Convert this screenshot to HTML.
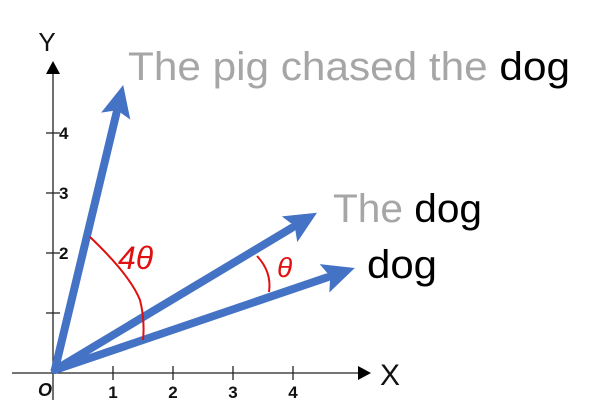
<!DOCTYPE html>
<html><head><meta charset="utf-8"><style>
html,body{margin:0;padding:0;background:#fff;width:590px;height:419px;overflow:hidden}
svg{display:block}
text{font-family:"Liberation Sans",sans-serif}
</style></head><body>
<svg id="chart" width="590" height="419" viewBox="0 0 590 419">
<g id="axes"></g>
<g id="vectors"></g>
<g id="annot">
  <path d="M90,237 Q130,275 140,300 Q145,320 143,340" fill="none" stroke="#e01010" stroke-width="2"/>
  <text x="118" y="269" font-size="32" fill="#e01010" font-style="italic">4θ</text>
  <path d="M257,256 Q272,272 269,292" fill="none" stroke="#e01010" stroke-width="2"/>
  <text x="277" y="277" font-size="28" fill="#e01010" font-style="italic">θ</text>
</g>
<g>
  <text x="128" y="80" font-size="40" textLength="442" lengthAdjust="spacingAndGlyphs" fill="#a6a6a6">The pig chased the <tspan fill="#000">dog</tspan></text>
  <text x="333" y="222" font-size="40" textLength="149" lengthAdjust="spacingAndGlyphs" fill="#a6a6a6">The <tspan fill="#000">dog</tspan></text>
  <text x="367" y="278" font-size="40" textLength="70" lengthAdjust="spacingAndGlyphs" fill="#000">dog</text>
</g>
</svg>
<script>
const xTicks=[1,2,3,4];
const yTicks=[1,2,3,4];
const yTickLabels=["","2","3","4"];
const vecX=[1.17,4.4,5.03];
const vecY=[4.8,2.67,1.75];
const vecNames=["vector-pig-chased-dog","vector-the-dog","vector-dog"];
const ox=53,oy=373,u=60;
const sx=v=>ox+v*u, sy=v=>oy-v*u;
const NS="http://www.w3.org/2000/svg";
function mk(tag,attrs,parent){const e=document.createElementNS(NS,tag);for(const k in attrs)e.setAttribute(k,attrs[k]);parent.appendChild(e);return e;}
const ax=document.getElementById('axes');
let e;
e=mk('line',{x1:12,y1:oy,x2:362,y2:oy,stroke:'#222','stroke-width':1.3},ax);


e=mk('polygon',{points:`371,${oy} 358,${oy-7} 358,${oy+7}`,fill:'#000'},ax);


e=mk('line',{x1:ox,y1:400,x2:ox,y2:70,stroke:'#222','stroke-width':1.3},ax);


e=mk('polygon',{points:`${ox},61 ${ox-7},74 ${ox+7},74`,fill:'#000'},ax);


xTicks.forEach(t=>{
  e=mk('line',{x1:sx(t),y1:oy-7,x2:sx(t),y2:oy+7,stroke:'#222','stroke-width':1.3},ax);
  
  
  e=mk('text',{x:sx(t),y:oy+25,'font-size':17,'font-weight':'bold','text-anchor':'middle',fill:'#111'},ax);
  e.textContent=t;
  
  
});
yTicks.forEach((t,i)=>{
  e=mk('line',{x1:ox-7,y1:sy(t),x2:ox+7,y2:sy(t),stroke:'#222','stroke-width':1.3},ax);
  
  
  e=mk('text',{x:ox+6,y:sy(t)+6,'font-size':17,'font-weight':'bold',fill:'#111'},ax);
  e.textContent=yTickLabels[i];
  
  
});
e=mk('text',{x:47,y:51,'font-size':26,'text-anchor':'middle',fill:'#111'},ax);
e.textContent='Y';


e=mk('text',{x:380,y:385,'font-size':30,fill:'#111'},ax);
e.textContent='X';


e=mk('text',{x:38,y:396,'font-size':18,'font-style':'italic','font-weight':'bold',fill:'#111'},ax);
e.textContent='O';


const vg=document.getElementById('vectors');
const x0=sx(0.03),y0=sy(0.05);
vecX.forEach((vx,i)=>{
  const tx=sx(vx),ty=sy(vecY[i]);
  const dx=tx-x0,dy=ty-y0,L=Math.hypot(dx,dy),ux=dx/L,uy=dy/L;
  const hl=32,hw=15;
  const bx=tx-ux*hl,by=ty-uy*hl;
  const g=mk('g',{},vg);
  
  
  e=mk('line',{x1:x0,y1:y0,x2:bx+ux*3,y2:by+uy*3,stroke:'#4472c4','stroke-width':8,'stroke-linecap':'round'},g);
  
  
  e=mk('polygon',{points:`${tx},${ty} ${bx-uy*hw},${by+ux*hw} ${bx+ux*6},${by+uy*6} ${bx+uy*hw},${by-ux*hw}`,fill:'#4472c4'},g);
  
  
});
</script>
</body></html>
